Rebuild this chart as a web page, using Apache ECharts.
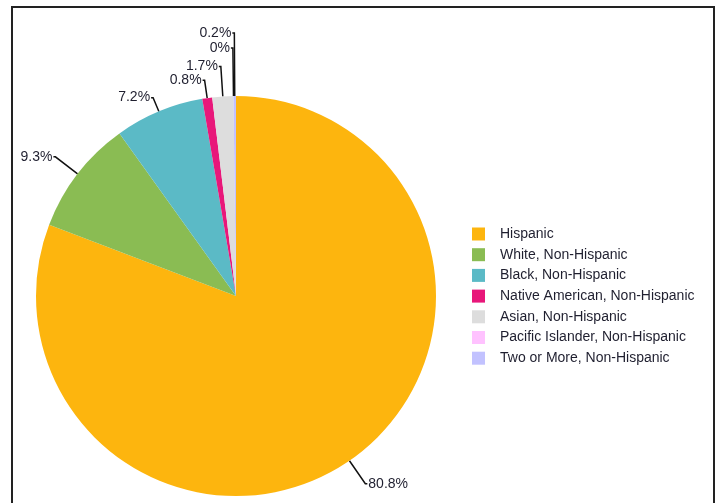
<!DOCTYPE html>
<html>
<head>
<meta charset="utf-8">
<script src="https://cdn.jsdelivr.net/npm/echarts@6/dist/echarts.min.js"></script>
<style>
  html, body { margin: 0; padding: 0; background: #ffffff; }
  #chart { width: 719px; height: 503px; }
</style>
</head>
<body>
<div id="chart"></div>
<script>
// Population share by race / ethnicity (percent)
const categories = [
  'Hispanic',
  'White, Non-Hispanic',
  'Black, Non-Hispanic',
  'Native American, Non-Hispanic',
  'Asian, Non-Hispanic',
  'Pacific Islander, Non-Hispanic',
  'Two or More, Non-Hispanic'
];
const shares = [80.8, 9.3, 7.2, 0.8, 1.7, 0, 0.2];
const colors = ['#FDB50E', '#8ABC53', '#5BBAC6', '#E8177A', '#DDDDDD', '#FFC2FF', '#C2C2FF'];
// Leader-line lengths: thin slices near the top get longer leaders so their labels stack
const leaderLengths = [28, 28, 15, 18, 30, 48, 63];

const chart = echarts.init(document.getElementById('chart'), null, { renderer: 'canvas' });

chart.setOption({
  animation: false,
  color: colors,
  textStyle: { fontFamily: 'Liberation Sans, Arial, sans-serif' },
  graphic: [{
    type: 'rect',
    shape: { x: 12, y: 7, width: 702, height: 520 },
    style: { fill: 'none', stroke: '#222222', lineWidth: 2 },
    silent: true
  }],
  legend: {
    orient: 'vertical',
    left: 472,
    top: 227,
    padding: 0,
    icon: 'rect',
    itemWidth: 13,
    itemHeight: 13,
    itemGap: 6.7,
    textStyle: { fontSize: 14, color: '#1f1f2f', padding: [0, 0, 0, 10] },
    data: categories
  },
  series: [{
    type: 'pie',
    center: [236, 296],
    radius: [0, 200],
    startAngle: 90,
    clockwise: true,
    avoidLabelOverlap: false,
    labelLayout: { hideOverlap: false, moveOverlap: null },
    label: {
      show: true,
      formatter: '{c}%',
      fontSize: 14,
      color: '#1f1f2f',
      distanceToLabelLine: 1
    },
    labelLine: {
      show: true,
      length: 25,
      length2: 2,
      lineStyle: { color: '#111111', width: 1.5 }
    },
    itemStyle: { borderWidth: 0 },
    emphasis: { disabled: true },
    data: categories.map((name, i) => ({
      name,
      value: shares[i],
      labelLine: { length: leaderLengths[i] }
    }))
  }]
});
</script>
</body>
</html>
